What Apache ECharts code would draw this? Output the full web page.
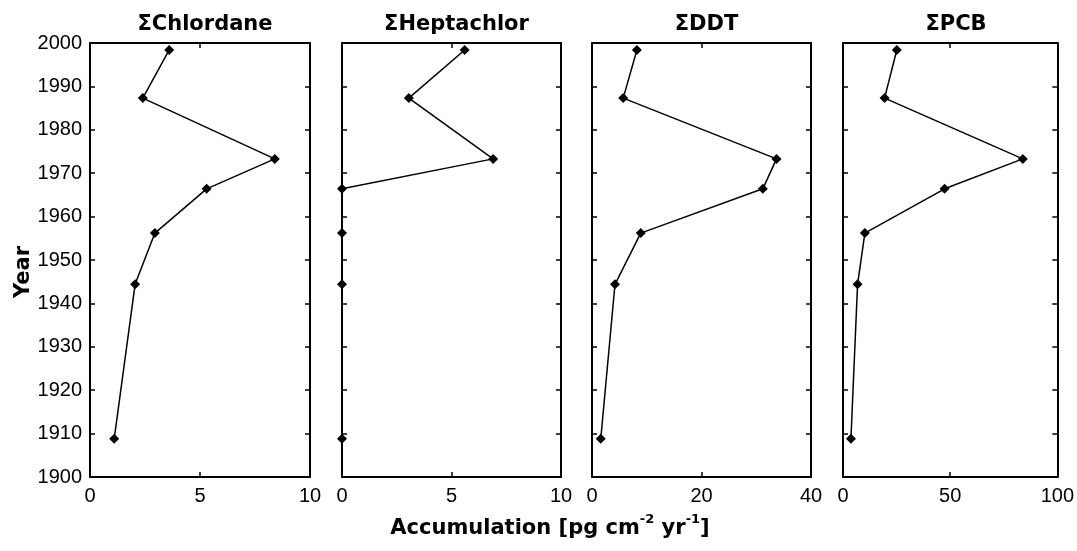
<!DOCTYPE html>
<html>
<head>
<meta charset="utf-8">
<script src="https://cdn.jsdelivr.net/npm/echarts@6/dist/echarts.min.js"></script>
<style>
  html, body { margin: 0; padding: 0; background: #fff; }
  #chart { width: 1077px; height: 551px; }
</style>
</head>
<body>
<div id="chart"></div>
<script>
// Sediment core dating (year) for each sampled layer
const years = [1998.4, 1987.3, 1973.3, 1966.4, 1956.2, 1944.4, 1908.8];

// Accumulation rates, pg cm-2 yr-1
const chlordane  = [3.6, 2.4, 8.4, 5.3, 2.95, 2.05, 1.1];
const heptachlor = [5.6, 3.05, 6.9, 0, 0, 0, 0];
const ddt        = [8.2, 5.7, 33.7, 31.2, 8.9, 4.2, 1.6];
const pcb        = [25.1, 19.4, 83.9, 47.4, 10.2, 6.8, 3.7];

const panelTitles = ['ΣChlordane', 'ΣHeptachlor', 'ΣDDT', 'ΣPCB'];
const panelSeries = [chlordane, heptachlor, ddt, pcb];
const xMaxima = [10, 10, 40, 100];
const yearMin = 1900, yearMax = 2000, yearStep = 10;

// panel placement (px)
const layout = [
  { left: 90,  width: 220 },
  { left: 342, width: 219 },
  { left: 592, width: 219 },
  { left: 843, width: 216 }
];
const W = 1077, TOP = 43, BOTTOM = 74;

const FONT = '"Liberation Sans", Arial, sans-serif';
const BOLD = '"DejaVu Sans", "Liberation Sans", sans-serif';
const frame = { show: true, onZero: false, lineStyle: { color: '#000', width: 2 } };
const tick = { show: true, inside: true, length: 5, lineStyle: { color: '#000', width: 1.5 } };

const grids = [], xAxes = [], yAxes = [], series = [], titles = [];

layout.forEach((p, i) => {
  grids.push({ left: p.left, right: W - p.left - p.width, top: TOP, bottom: BOTTOM, show: false });
  const half = xMaxima[i] / 2;
  // bottom axis with labels
  xAxes.push({
    type: 'value', gridIndex: i, position: 'bottom', min: 0, max: xMaxima[i], interval: half,
    axisLine: frame, axisTick: tick, splitLine: { show: false },
    axisLabel: { color: '#000', fontFamily: FONT, fontSize: 20, margin: 9, formatter: v => String(v) }
  });
  // top frame edge
  xAxes.push({
    type: 'value', gridIndex: i, position: 'top', min: 0, max: xMaxima[i], interval: half,
    axisLine: frame, axisTick: tick, splitLine: { show: false }, axisLabel: { show: false }
  });
  yAxes.push({
    type: 'value', gridIndex: i, position: 'left', min: yearMin, max: yearMax, interval: yearStep,
    axisLine: frame, axisTick: tick, splitLine: { show: false },
    axisLabel: { show: i === 0, color: '#000', fontFamily: FONT, fontSize: 20, margin: 8, formatter: v => String(v) },
    name: i === 0 ? 'Year' : '', nameLocation: 'middle', nameGap: 56, nameRotate: 90,
    nameTextStyle: { color: '#000', fontFamily: BOLD, fontWeight: 'bold', fontSize: 21, padding: [0, 24, 0, 0] }
  });
  yAxes.push({
    type: 'value', gridIndex: i, position: 'right', min: yearMin, max: yearMax, interval: yearStep,
    axisLine: frame, axisTick: tick, splitLine: { show: false }, axisLabel: { show: false }
  });
  series.push({
    type: 'line', xAxisIndex: i * 2, yAxisIndex: i * 2,
    data: panelSeries[i].map((v, k) => [v, years[k]]),
    symbol: 'diamond', symbolSize: 10, showSymbol: true, animation: false,
    lineStyle: { color: '#000', width: 1.5 },
    itemStyle: { color: '#000' }
  });
  titles.push({
    text: panelTitles[i], left: p.left + p.width / 2, top: 9, textAlign: 'center',
    textStyle: { color: '#000', fontFamily: BOLD, fontWeight: 'bold', fontSize: 21 }
  });
});

titles.push({
  text: '{b|Accumulation [pg cm}{s|-2}{b| yr}{s|-1}{b|]}',
  left: 545, top: 508, textAlign: 'center',
  textStyle: {
    rich: {
      b: { color: '#000', fontFamily: BOLD, fontWeight: 'bold', fontSize: 21, lineHeight: 26, verticalAlign: 'bottom' },
      s: { color: '#000', fontFamily: BOLD, fontWeight: 'bold', fontSize: 13, lineHeight: 26, verticalAlign: 'top', padding: [0, 0, 10, 0] }
    }
  }
});

const chart = echarts.init(document.getElementById('chart'), null, { renderer: 'canvas' });
chart.setOption({
  backgroundColor: '#fff',
  animation: false,
  title: titles,
  grid: grids,
  xAxis: xAxes,
  yAxis: yAxes,
  series: series
});
</script>
</body>
</html>
